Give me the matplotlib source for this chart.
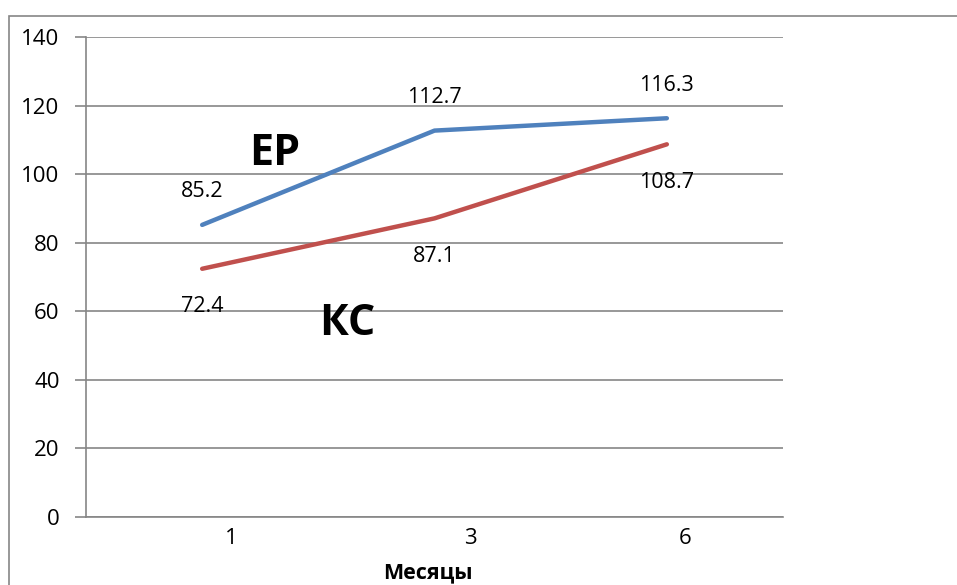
import matplotlib.pyplot as plt
import matplotlib.transforms as mtransforms
from matplotlib.patches import Rectangle

# ----------------------------
# Данные
# ----------------------------
months = ["1", "3", "6"]
ep_values = [85.2, 112.7, 116.3]
kc_values = [72.4, 87.1, 108.7]

blue = "#4F81BD"
red = "#C0504D"
grid_col = "#868686"

plt.rcParams["font.family"] = ["Open Sans", "DejaVu Sans"]

fig = plt.figure(figsize=(9.57, 5.85), dpi=100)
ax = fig.add_axes([86 / 957, 68 / 585, (783 - 86) / 957, (517 - 37) / 585])

# рамка вокруг диаграммы
fig.patches.append(Rectangle((9 / 957, -0.05), 1.2, 1 - 16 / 585 + 0.05,
                             transform=fig.transFigure, fill=False,
                             edgecolor=grid_col, linewidth=1.2))

x = range(len(months))
ax.plot(x, ep_values, color=blue, linewidth=3.2, solid_capstyle="round")
ax.plot(x, kc_values, color=red, linewidth=3.2, solid_capstyle="round")

for xi, v in zip(x, ep_values):
    ax.annotate(f"{v}", (xi, v), xytext=(0, 33), textcoords="offset pixels",
                ha="center", va="center", fontsize=15.5)
for xi, v in zip(x, kc_values):
    ax.annotate(f"{v}", (xi, v), xytext=(0, -38), textcoords="offset pixels",
                ha="center", va="center", fontsize=15.5)

ax.text(0.313, 106, "ЕР", fontsize=31, fontweight="bold", ha="center", va="center")
ax.text(0.623, 56.5, "КС", fontsize=31, fontweight="bold", ha="center", va="center")

ax.set_xlim(-0.5, 2.5)
ax.set_ylim(0, 140)
ax.set_yticks(range(0, 141, 20))
ax.yaxis.grid(True, color=grid_col, linewidth=1.2)
ax.set_axisbelow(True)

for s in ["top", "right"]:
    ax.spines[s].set_visible(False)
for s in ["left", "bottom"]:
    ax.spines[s].set_color(grid_col)
    ax.spines[s].set_linewidth(1.2)

ax.tick_params(axis="y", length=8, width=1.2, color=grid_col, labelsize=16, pad=11)
ax.tick_params(axis="x", length=0, labelsize=16, pad=8)
ax.set_xticks(list(x))
ax.set_xticklabels(months)

# подписи категорий немного смещены вправо
shifts = [29, 36, 18]
for lbl, dx in zip(ax.get_xticklabels(), shifts):
    lbl.set_transform(lbl.get_transform() +
                      mtransforms.ScaledTranslation(dx / 100, 0, fig.dpi_scale_trans))

ax.set_xlabel("Месяцы", fontsize=15.5, fontweight="bold")
ax.xaxis.set_label_coords((428 - 86) / (783 - 86), -0.095)

fig.savefig("out.png", dpi=100)
